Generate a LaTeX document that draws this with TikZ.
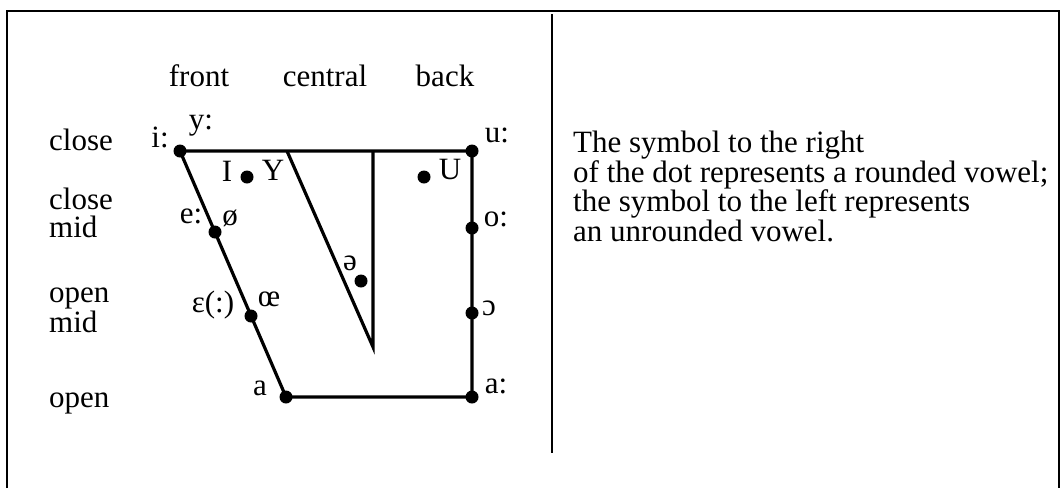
\documentclass[tikz,border=0pt]{standalone}
\usepackage{fontspec}
\setmainfont{Liberation Serif}
\begin{document}
\begin{tikzpicture}[x=1pt,y=-1pt,
  lbl/.style={font=\fontsize{31}{25}\selectfont, inner sep=0pt},
  twoline/.style={lbl, align=left, font=\fontsize{31}{28}\selectfont},
  vdot/.style={circle, fill=black, inner sep=0pt, minimum size=13pt},
  chart/.style={line width=3.2pt},
  frameline/.style={line width=2.6pt}]
\useasboundingbox (0,0) rectangle (1064,488);
% frame and divider
\draw[frameline] (7,488) -- (7,11) -- (1059,11) -- (1059,488);
\coordinate (dtop) at (552,14);
\coordinate (dbot) at (552,453);
\draw[line width=2pt] (dtop) -- (dbot);
% dots
\node[vdot] (i)  at (180,151) {};
\node[vdot] (u)  at (472,151) {};
\node[vdot] (e)  at (215,232) {};
\node[vdot] (eps) at (251,316) {};
\node[vdot] (a)  at (286,397) {};
\node[vdot] (aa) at (472,397) {};
\node[vdot] (o)  at (472,228) {};
\node[vdot] (oo) at (472,313) {};
\node[vdot] (I)  at (247,177) {};
\node[vdot] (U)  at (424,177) {};
\node[vdot] (schwa) at (361,281) {};
% outline
\draw[chart] (i.center) -- (u.center) -- (aa.center) -- (a.center) -- (i.center);
\coordinate (t1) at (287,151);
\coordinate (t2) at (373,347);
\coordinate (t3) at (373,151);
\draw[chart, line join=miter] (t1) -- (t2) -- (t3);
% column headings
\node[lbl, anchor=base] (front) at (199,86) {front};
\node[lbl, anchor=base] (central) at (325,86) {central};
\node[lbl, anchor=base] (back) at (445,86) {back};
% row headings
\node[lbl, anchor=base west] (close) at (49,150) {close};
\node[twoline, anchor=base west] (closemid) at (49,237) {close\\mid};
\node[twoline, anchor=base west] (openmid) at (49,332) {open\\mid};
\node[lbl, anchor=base west] (open) at (49,407) {open};
% vowel labels
\node[lbl, anchor=mid] at (160,145) {i:};
\node[lbl, anchor=mid] at (201,127) {y:};
\node[lbl, anchor=mid] at (227,179) {I};
\node[lbl, anchor=mid] at (273,178) {Y};
\node[lbl, anchor=mid] at (450,177) {U};
\node[lbl, anchor=mid] at (497,140) {u:};
\node[lbl, anchor=mid] at (191,221) {e:};
\node[lbl, anchor=mid] at (230,223) {ø};
\node[lbl, anchor=mid] at (213,310) {ɛ(:)};
\node[lbl, anchor=mid] at (269,304) {œ};
\node[lbl, anchor=mid] at (350,268) {ə};
\node[lbl, anchor=mid] at (496,224) {o:};
\node[lbl, anchor=mid] at (489,313) {ɔ};
\node[lbl, anchor=mid] at (260,393) {a};
\node[lbl, anchor=mid] at (496,391) {a:};
% explanation
\node[lbl, anchor=base west, align=left, font=\fontsize{31}{24}\selectfont] (expl) at (573,241)
  {The symbol to the right\\of the dot represents a rounded vowel;\\the symbol to the left represents\\an unrounded vowel.};
\end{tikzpicture}
\end{document}
